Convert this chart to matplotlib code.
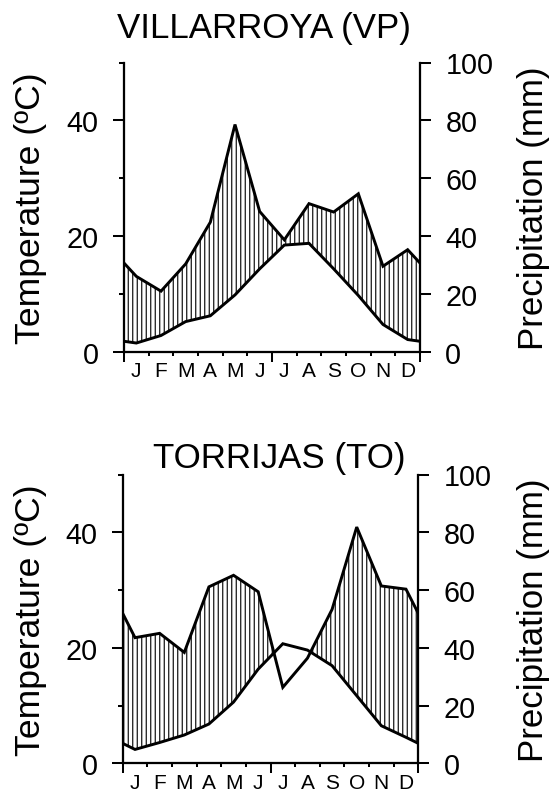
import numpy as np
import matplotlib
matplotlib.use("Agg")
import matplotlib.pyplot as plt
import matplotlib.transforms as mtransforms
from matplotlib.ticker import FixedLocator, NullFormatter

# ---------------- data ----------------
months = ["J", "F", "M", "A", "M", "J", "J", "A", "S", "O", "N", "D"]

villarroya_title = "VILLARROYA (VP)"
villarroya_temp = [1.6, 2.9, 5.3, 6.3, 9.9, 14.4, 18.5, 18.8, 14.4, 9.8, 4.8, 2.2]
villarroya_prec = [26.2, 21.1, 30.5, 44.9, 78.6, 48.6, 38.8, 51.3, 48.4, 54.7, 29.7, 35.4]

torrijas_title = "TORRIJAS (TO)"
torrijas_temp = [2.4, 3.6, 4.9, 6.8, 10.6, 16.3, 20.7, 19.6, 16.9, 11.7, 6.5, 4.5]
torrijas_prec = [43.5, 45.0, 38.4, 61.1, 65.1, 59.4, 26.3, 36.4, 53.3, 81.8, 61.4, 60.3]

temp_ticks = [0, 20, 40]
temp_minor = [10, 30, 50]
prec_ticks = [0, 20, 40, 60, 80, 100]
temp_label = "Temperature (ºC)"
prec_label = "Precipitation (mm)"

# ---------------- figure ----------------
W, H, DPI = 551, 796, 81
plt.rcParams["font.family"] = ["Liberation Sans", "DejaVu Sans"]
plt.rcParams["hatch.linewidth"] = 1.0
plt.rcParams["hatch.color"] = "black"

fig = plt.figure(figsize=(W / DPI, H / DPI), dpi=DPI)


def px_rect(l, r, t, b):
    return [l / W, 1 - b / H, (r - l) / W, (b - t) / H]


def panel(l, r, t, b, title, title_x, title_base, temp, prec, month_off):
    ax = fig.add_axes(px_rect(l, r, t, b))
    ax2 = ax.twinx()
    tv = np.asarray(temp, float)
    pv = np.asarray(prec, float)
    et = (tv[0] + tv[-1]) / 2
    ep = (pv[0] + pv[-1]) / 2
    x = np.concatenate([[0], np.arange(12) + 0.5, [12]])
    tt = np.concatenate([[et], tv, [et]])
    pp = np.concatenate([[ep], pv, [ep]])

    ax.set_xlim(0, 12)
    ax.set_ylim(0, 50)
    ax2.set_ylim(0, 100)

    ax2.fill_between(x, 2 * tt, pp, where=pp >= 2 * tt, interpolate=True,
                     facecolor="none", edgecolor="black", hatch="|||",
                     linewidth=0)
    ax.plot(x, tt, color="black", lw=2.6, solid_joinstyle="miter")
    ax2.plot(x, pp, color="black", lw=2.6, solid_joinstyle="miter")

    for s in ("top", "right"):
        ax.spines[s].set_visible(False)
    for s in ("top", "left", "bottom"):
        ax2.spines[s].set_visible(False)
    for s in ("left", "bottom"):
        ax.spines[s].set_linewidth(2.0)
    ax2.spines["right"].set_linewidth(2.0)

    ax.yaxis.set_major_locator(FixedLocator(temp_ticks))
    ax.yaxis.set_minor_locator(FixedLocator(temp_minor))
    ax.yaxis.set_minor_formatter(NullFormatter())
    ax.tick_params(axis="y", which="major", length=9.5, width=1.8, pad=13,
                   labelsize=25.5)
    ax.tick_params(axis="y", which="minor", length=4.4, width=1.8)

    ax.xaxis.set_major_locator(FixedLocator([0, 6, 12]))
    ax.xaxis.set_minor_locator(FixedLocator([1, 2, 3, 4, 5, 7, 8, 9, 10, 11]))
    ax.xaxis.set_major_formatter(NullFormatter())
    ax.xaxis.set_minor_formatter(NullFormatter())
    ax.tick_params(axis="x", which="major", length=8.5, width=1.8)
    ax.tick_params(axis="x", which="minor", length=3.8, width=1.8)

    ax2.yaxis.set_major_locator(FixedLocator(prec_ticks))
    ax2.tick_params(axis="y", which="major", length=9.5, width=1.8, pad=13,
                    labelsize=25.5)

    trans = mtransforms.blended_transform_factory(ax.transData, ax.transAxes)
    yoff = -month_off / (b - t)
    for i, m in enumerate(months):
        ax.text(i + 0.5, yoff, m, transform=trans, ha="center", va="center",
                fontsize=18.5)

    fig.text(title_x / W, 1 - title_base / H, title, ha="center",
             va="baseline", fontsize=31)
    yc = 1 - (t + b) / 2 / H
    fig.text(31 / W, yc, temp_label, rotation=90, ha="center", va="center",
             fontsize=31.5)
    fig.text(533 / W, yc, prec_label, rotation=90, ha="center", va="center",
             fontsize=31)
    return ax, ax2


panel(124, 420, 63.5, 353.3, villarroya_title, 264, 38.3,
      villarroya_temp, villarroya_prec, 18)
panel(122.7, 418.3, 475.5, 764.3, torrijas_title, 279, 468,
      torrijas_temp, torrijas_prec, 19.5)

fig.savefig("out.png", dpi=DPI)
